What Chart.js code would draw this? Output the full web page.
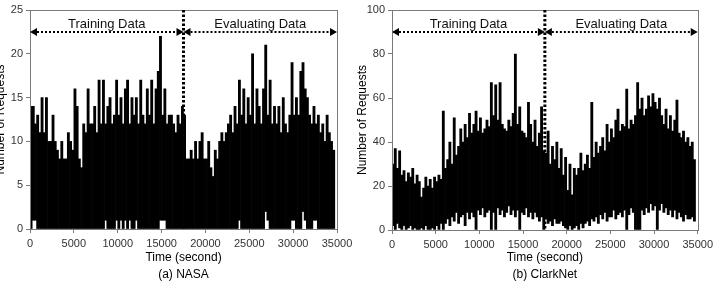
<!DOCTYPE html>
<html><head><meta charset="utf-8">
<script src="https://cdn.jsdelivr.net/npm/chart.js@4.4.1/dist/chart.umd.min.js"></script>
<style>
html,body{margin:0;padding:0;background:#fff;overflow:hidden;width:717px;height:284px;}
#wrap{position:relative;width:717px;height:284px;overflow:hidden;background:#fff;}
canvas{position:absolute;top:0;}
#c1{left:-8px;}
#c2{left:352px;}
</style></head><body>
<div id="wrap"><canvas id="c1" width="365" height="284"></canvas><canvas id="c2" width="365" height="284"></canvas></div>
<script>
// ---------------- DATA ----------------
// Each array entry covers one 250-second bin: the highest and lowest request count seen in it.
const binSeconds = 250;
const xTicks = [0, 5000, 10000, 15000, 20000, 25000, 30000, 35000];
const nasaYTicks = [0, 5, 10, 15, 20, 25];
const clarkYTicks = [0, 20, 40, 60, 80, 100];
const splitTime = 17500;
const segmentNames = ['Training Data', 'Evaluating Data'];
const captions = ['(a) NASA', '(b) ClarkNet'];
const xTitle = 'Time (second)';
const yTitle = 'Number of Requests';
const nasaArrowAt = 22.5, nasaTextAt = 23.4;
const clarkArrowAt = 90, clarkTextAt = 93.6;

const nasaHigh = [14,14,12,13, 11,15,11,15, 10,10,13,10, 9,8,10,8, 8,11,10,9, 16,14,8,7,
  12,11,16,12, 12,14,11,17, 12,17,12,14, 15,12,13,17, 13,15,12,16, 17,12,15,13,
  15,12,17,13, 12,16,13,17, 12,16,18,22, 13,16,12,13, 13,12,11,13, 12,14,13,8,
  8,9,8,10, 8,10,11,8, 8,10,7,6, 9,8,10,11, 10,11,12,13, 11,14,12,17,
  13,16,12,15, 13,20,12,16, 14,12,16,21, 13,17,12,14, 12,14,11,15, 12,11,13,19,
  13,15,13,18, 19,16,15,13, 12,14,12,13, 11,12,10,13, 11,10,9];
const nasaLow = [0,1,1,0, 0,0,0,0, 0,0,0,0, 0,0,0,0, 0,0,0,0, 0,0,0,0,
  0,0,0,0, 0,0,0,0, 0,0,1,0, 0,0,0,1, 0,1,0,1, 0,1,0,0,
  1,0,0,0, 0,0,0,0, 0,0,0,1, 1,1,0,0, 0,0,0,0, 0,0,0,0,
  0,0,0,0, 0,0,0,0, 0,0,0,0, 0,0,0,0, 0,0,0,0, 0,0,0,1,
  0,0,0,0, 0,0,0,0, 0,0,0,2, 1,0,0,0, 0,0,0,0, 0,0,0,1,
  1,0,0,0, 2,1,0,0, 0,1,1,0, 0,0,0,0, 0,0,0];
const clarkHigh = [30,37,28,36, 25,27,22,26, 24,28,21,25, 22,15,19,24, 20,23,19,24, 22,25,23,54,
  28,32,40,30, 51,34,38,46, 40,48,42,53, 44,48,54,45, 51,44,46,50, 47,67,52,66,
  50,67,48,46, 45,50,47,53, 80,48,56,45, 44,42,58,48, 40,50,38,44, 56,36,35,45,
  30,38,32,40, 28,37,25,33, 18,30,16,28, 25,28,35,27, 30,34,28,58, 33,40,35,38,
  42,36,48,40, 46,42,50,55, 45,48,47,64, 46,50,48,52, 67,55,60,52, 55,61,56,62,
  58,55,60,52, 48,55,46,52, 45,50,59,44, 42,45,40,42, 38,40,32];
const clarkLow = [2,0,3,1, 0,2,0,1, 2,0,1,0, 0,1,0,2, 0,0,1,0, 2,0,3,0,
  3,5,2,6, 4,8,3,6, 7,2,8,5, 8,6,0,9, 7,10,6,8, 9,0,8,0,
  10,7,9,6, 8,11,7,9, 6,9,0,8, 7,10,6,8, 5,8,6,4, 6,0,5,3,
  4,2,5,3, 3,4,2,1, 0,2,0,1, 2,0,3,1, 3,4,2,5, 4,6,3,7,
  5,8,4,6, 6,9,5,7, 8,6,9,0, 7,10,8,0, 0,0,9,7, 10,8,12,9,
  11,0,9,12, 8,10,7,9, 6,9,5,8, 6,4,7,5, 5,6,4];

// ---------------- BUILD ----------------
// one floating bar per bin, spanning [lowest, highest] of that bin
function envelopeBars(highs, lows) {
  return highs.map((h, i) => ({x: i * binSeconds + binSeconds / 2, y: [lows[i], h]}));
}

const FONT = "'Liberation Sans', Arial, sans-serif";

function drawArrow(ctx, x0, x1, y) {
  const head = 7, half = 4;
  ctx.save();
  ctx.strokeStyle = '#000';
  ctx.lineWidth = 2;
  ctx.setLineDash([2, 2]);
  ctx.beginPath();
  ctx.moveTo(x0 + head, y);
  ctx.lineTo(x1 - head, y);
  ctx.stroke();
  ctx.setLineDash([]);
  ctx.fillStyle = '#000';
  ctx.beginPath();
  ctx.moveTo(x0, y); ctx.lineTo(x0 + head, y - half); ctx.lineTo(x0 + head, y + half); ctx.closePath();
  ctx.fill();
  ctx.beginPath();
  ctx.moveTo(x1, y); ctx.lineTo(x1 - head, y - half); ctx.lineTo(x1 - head, y + half); ctx.closePath();
  ctx.fill();
  ctx.restore();
}

const annotatePlugin = {
  id: 'annotate',
  afterDatasetsDraw(chart, args, opts) {
    const {ctx, chartArea: a, scales: {x, y}} = chart;
    ctx.save();
    ctx.strokeStyle = '#7a7a7a';
    ctx.lineWidth = 1;
    ctx.strokeRect(Math.round(a.left) + 0.5, Math.round(a.top) + 0.5,
                   Math.round(a.right - a.left), Math.round(a.bottom - a.top));
    const xd = x.getPixelForValue(opts.split);
    ctx.strokeStyle = '#000';
    ctx.lineWidth = 3;
    ctx.setLineDash([2.5, 2]);
    ctx.beginPath();
    ctx.moveTo(xd, a.top);
    ctx.lineTo(xd, a.bottom);
    ctx.stroke();
    ctx.setLineDash([]);
    const ya = y.getPixelForValue(opts.arrowAt);
    const xs = x.getPixelForValue(x.min), xe = x.getPixelForValue(x.max);
    drawArrow(ctx, xs, xd, ya);
    drawArrow(ctx, xd, xe, ya);
    const yt = y.getPixelForValue(opts.textAt);
    ctx.fillStyle = '#111';
    ctx.font = '13px ' + FONT;
    ctx.textAlign = 'center';
    ctx.textBaseline = 'middle';
    ctx.fillText(opts.names[0], (xs + xd) / 2, yt);
    ctx.fillText(opts.names[1], (xd + xe) / 2, yt);
    ctx.restore();
  }
};

function makePanel(id, highs, lows, yTicks, caption, arrowAt, textAt, yAxisWidth, xAxisHeight, rightPad, yTitlePad) {
  const yMax = yTicks[yTicks.length - 1];
  const yStep = yTicks[1] - yTicks[0];
  return new Chart(document.getElementById(id), {
    type: 'bar',
    data: {
      datasets: [{
        data: envelopeBars(highs, lows),
        backgroundColor: '#000',
        borderWidth: 0,
        barPercentage: 1,
        categoryPercentage: 1,
        grouped: false
      }]
    },
    options: {
      responsive: false,
      maintainAspectRatio: false,
      devicePixelRatio: 1,
      animation: false,
      layout: {padding: {top: 10, right: rightPad, bottom: 0, left: 0}},
      plugins: {
        legend: {display: false},
        tooltip: {enabled: false},
        annotate: {split: splitTime, arrowAt: arrowAt, textAt: textAt, names: segmentNames}
      },
      scales: {
        x: {
          type: 'linear',
          offset: false,
          min: xTicks[0],
          max: xTicks[xTicks.length - 1],
          afterFit: s => { s.height = xAxisHeight; },
          afterBuildTicks: s => { s.ticks = xTicks.map(v => ({value: v})); },
          grid: {display: true, drawOnChartArea: false, drawTicks: true, tickLength: 4, color: '#7a7a7a', offset: false},
          border: {display: false},
          ticks: {
            autoSkip: false, maxRotation: 0, padding: 4,
            color: '#333', font: {family: FONT, size: 11},
            callback: v => String(v)
          },
          title: {
            display: true, text: [xTitle, caption], color: '#000',
            font: {family: FONT, size: 12, lineHeight: 1.4},
            padding: {top: 0, bottom: 1}
          }
        },
        y: {
          type: 'linear',
          min: 0,
          max: yMax,
          afterFit: s => { s.width = yAxisWidth; },
          grid: {display: true, drawOnChartArea: false, drawTicks: true, tickLength: 4, color: '#7a7a7a'},
          border: {display: false},
          ticks: {
            stepSize: yStep, padding: 3,
            color: '#333', font: {family: FONT, size: 11},
            callback: v => String(v)
          },
          title: {
            display: true, text: yTitle, color: '#000',
            font: {family: FONT, size: 12, lineHeight: 1.2},
            padding: {top: yTitlePad, bottom: 0}
          }
        }
      }
    },
    plugins: [annotatePlugin]
  });
}

makePanel('c1', nasaHigh, nasaLow, nasaYTicks, captions[0], nasaArrowAt, nasaTextAt, 38, 55, 20, 1.5);
makePanel('c2', clarkHigh, clarkLow, clarkYTicks, captions[1], clarkArrowAt, clarkTextAt, 40, 54, 17, 3.5);
</script>
</body></html>
